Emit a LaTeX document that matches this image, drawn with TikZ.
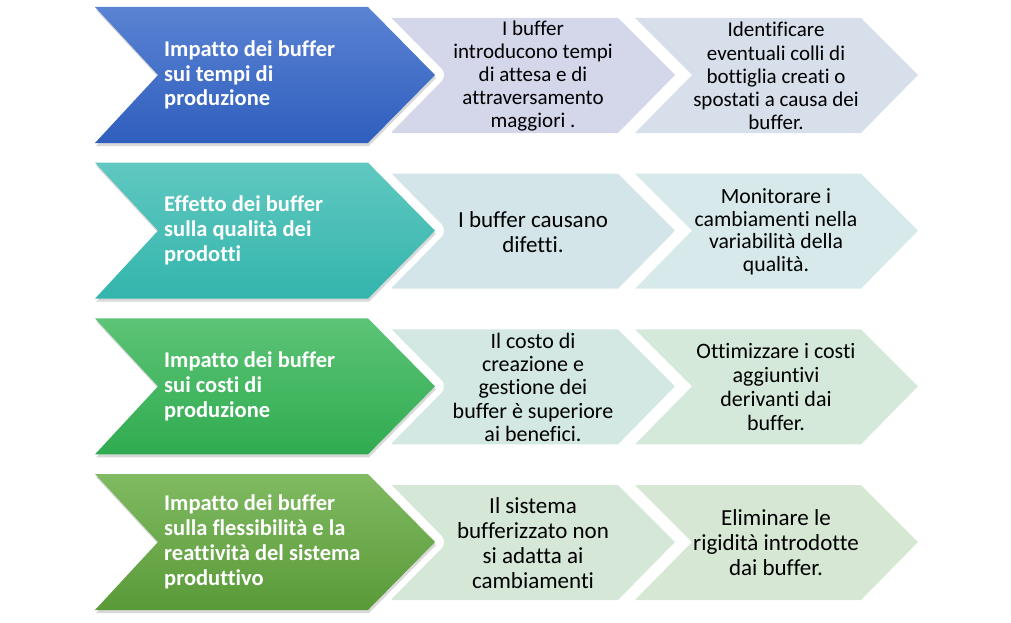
\documentclass[tikz,border=0pt]{standalone}
\usepackage{fontspec}
\setmainfont{Carlito}[Ligatures=NoCommon]
\usetikzlibrary{shadows}

\definecolor{topA}{HTML}{5A83D3}
\definecolor{botA}{HTML}{2F5EBD}
\definecolor{topB}{HTML}{60C8C0}
\definecolor{botB}{HTML}{33B5AD}
\definecolor{topC}{HTML}{5CC476}
\definecolor{botC}{HTML}{30AB50}
\definecolor{topD}{HTML}{80BA62}
\definecolor{botD}{HTML}{5A9A38}
\definecolor{causeA}{HTML}{D4D6EA}
\definecolor{actionA}{HTML}{D6DFEA}
\definecolor{causeB}{HTML}{D3E5E8}
\definecolor{actionB}{HTML}{D7E9EB}
\definecolor{causeC}{HTML}{D3E8E2}
\definecolor{actionC}{HTML}{D5E9DB}
\definecolor{causeD}{HTML}{D5E8D8}
\definecolor{actionD}{HTML}{D6E7D4}

\tikzstyle{headshape}=[preaction={draw=white,line width=18pt,line join=round},drop shadow={shadow xshift=1pt,shadow yshift=-3pt,opacity=0.3}]
\tikzstyle{headtext}=[text=white,font=\bfseries\fontsize{22.5}{24.8}\selectfont,align=left,anchor=west,inner sep=0pt]
\tikzstyle{bodytext}=[font=\fontsize{21}{23.2}\selectfont,align=center,inner sep=0pt]
\tikzset{bodysize/.style 2 args={font=\fontsize{#1}{#2}\selectfont}}

\begin{document}
\begin{tikzpicture}[x=1pt,y=-1pt]
    \useasboundingbox (0,0) rectangle (1011,623);
    % First we draw the chevrons of each row
    \foreach \i/\name in {0/A,1/B,2/C,3/D} {
        \pgfmathsetmacro{\t}{7+155.67*\i}
        \pgfmathsetmacro{\m}{\t+68}
        \pgfmathsetmacro{\b}{\t+136}
        \pgfmathsetmacro{\s}{\t+11}
        \pgfmathsetmacro{\e}{\t+126}
        \fill[cause\name] (392,\s) -- (618,\s) -- (675,\m) -- (618,\e) -- (392,\e) -- cycle;
        \fill[action\name] (635,\s) -- (861,\s) -- (918,\m) -- (861,\e) -- (635,\e) -- (692,\m) -- cycle;
        \shade[headshape,top color=top\name,bottom color=bot\name]
            (95,\t) -- (368,\t) -- (435,\m) -- (368,\b) -- (95,\b) -- (158,\m) -- cycle;
        \coordinate (head\name) at (164,\m);
        \coordinate (cause\name) at (533,\m+1);
        \coordinate (action\name) at (776,\m+1);
    }
    % Then the texts
    \node[headtext] (timeHead) at (headA) {Impatto dei buffer\\sui tempi di\\produzione};
    \node[bodytext] (timeCause) at (causeA) {I buffer\\introducono tempi\\di attesa e di\\attraversamento\\maggiori .};
    \node[bodytext] (timeAction) at (actionA) {Identificare\\eventuali colli di\\bottiglia creati o\\spostati a causa dei\\buffer.};
    \node[headtext] (qualityHead) at (headB) {Effetto dei buffer\\sulla qualità dei\\prodotti};
    \node[bodytext,bodysize={23}{25}] (qualityCause) at (causeB) {I buffer causano\\difetti.};
    \node[bodytext,bodysize={21.7}{22.5}] (qualityAction) at (actionB) {Monitorare i\\cambiamenti nella\\variabilità della\\qualità.};
    \node[headtext] (costHead) at (headC) {Impatto dei buffer\\sui costi di\\produzione};
    \node[bodytext,bodysize={22}{23.3}] (costCause) at (causeC) {Il costo di\\creazione e\\gestione dei\\buffer è superiore\\ai benefici.};
    \node[bodytext,bodysize={22}{24}] (costAction) at (actionC) {Ottimizzare i costi\\aggiuntivi\\derivanti dai\\buffer.};
    \node[headtext] (flexHead) at (headD) {Impatto dei buffer\\sulla flessibilità e la\\reattività del sistema\\produttivo};
    \node[bodytext,bodysize={23}{25}] (flexCause) at (causeD) {Il sistema\\bufferizzato non\\si adatta ai\\cambiamenti};
    \node[bodytext,bodysize={23}{25}] (flexAction) at (actionD) {Eliminare le\\rigidità introdotte\\dai buffer.};
\end{tikzpicture}
\end{document}
